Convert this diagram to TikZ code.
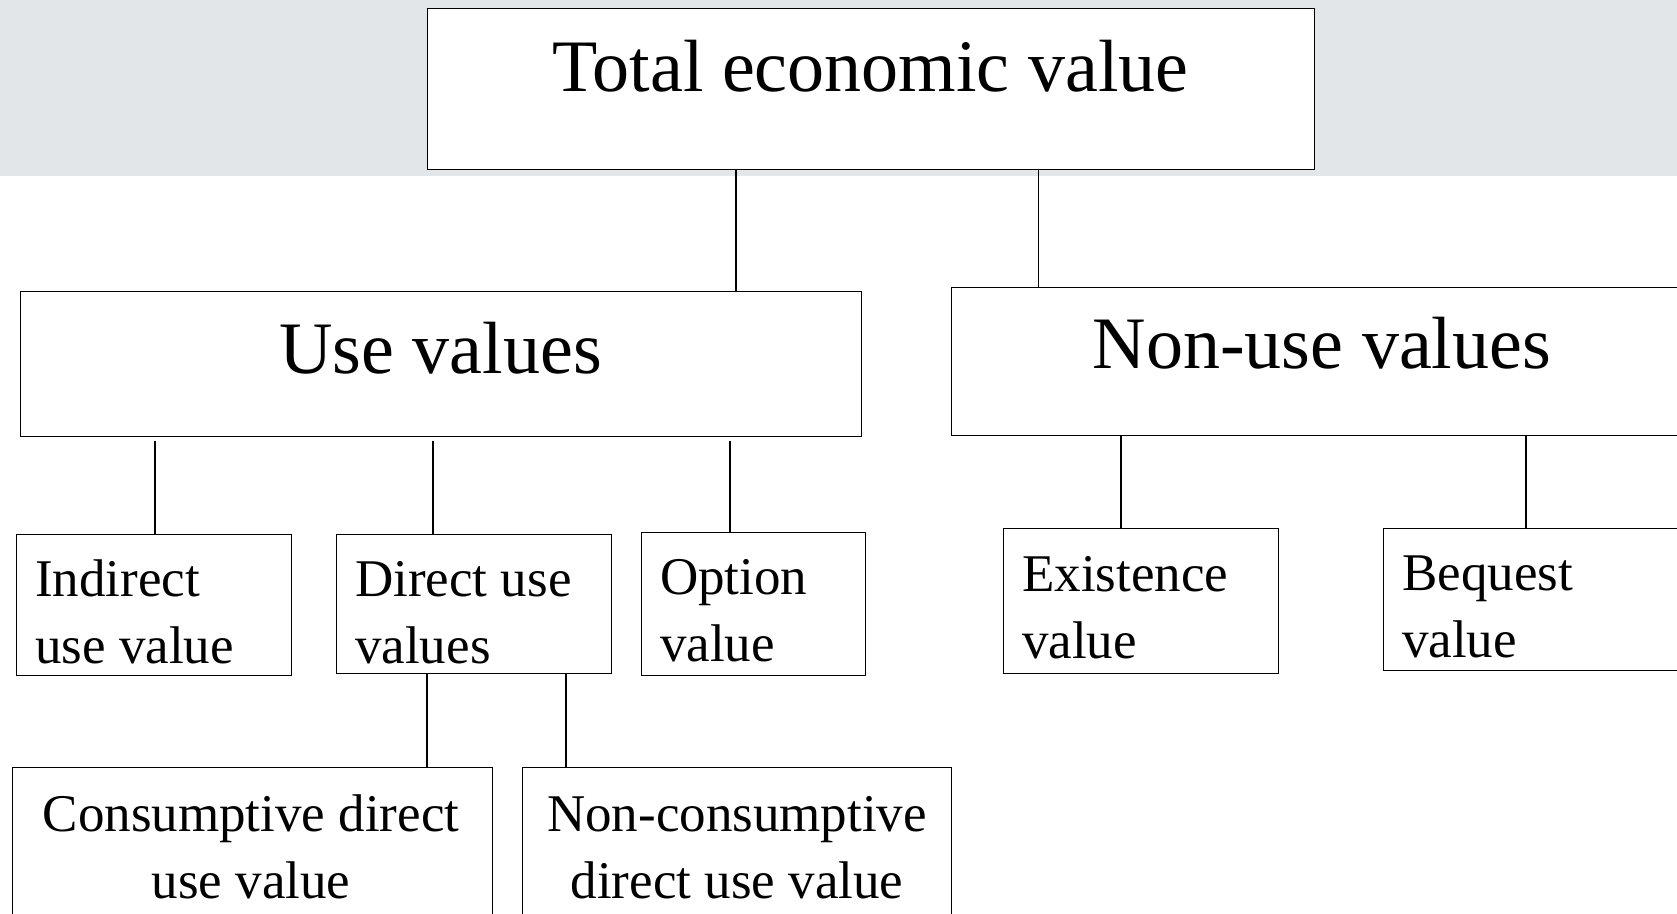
\documentclass[tikz,border=0pt]{standalone}
\usepackage{fontspec}
\setmainfont{Liberation Serif}
\usetikzlibrary{positioning}
\definecolor{bandgray}{RGB}{227,230,233}

\begin{document}
\begin{tikzpicture}[
        x=1pt, y=-1pt,
        box/.style={draw, line width=1.4pt, anchor=north west, inner sep=0pt, fill=white},
        bigtxt/.style={font=\fontsize{74}{89}\selectfont, anchor=base, inner sep=0pt},
        smalltxt/.style={font=\fontsize{53}{67}\selectfont, align=left, anchor=base west, inner sep=0pt},
        midtxt/.style={font=\fontsize{53}{67}\selectfont, align=center, anchor=base, inner sep=0pt},
        link/.style={line width=1.4pt}
    ]
        \useasboundingbox (0,0) rectangle (1677,913);
        \clip (0,0) rectangle (1677,913);
        \fill[bandgray] (0,0) rectangle (1677,176);

        % boxes
        \node[box, minimum width=887pt, minimum height=161.5pt] (total) at (427,7.5) {};
        \node[box, minimum width=841pt, minimum height=145pt] (use) at (20,291) {};
        \node[box, minimum width=760pt, minimum height=148pt] (nonuse) at (951,287) {};
        \node[box, minimum width=275pt, minimum height=141pt] (indirect) at (16,534) {};
        \node[box, minimum width=275pt, minimum height=139pt] (direct) at (336,534) {};
        \node[box, minimum width=224pt, minimum height=143pt] (option) at (641,532) {};
        \node[box, minimum width=275pt, minimum height=145pt] (exist) at (1003,528) {};
        \node[box, minimum width=330pt, minimum height=142pt] (bequest) at (1383,528) {};
        \node[box, minimum width=480pt, minimum height=200pt] (consump) at (12,767) {};
        \node[box, minimum width=429pt, minimum height=200pt] (noncons) at (522,767) {};

        % texts (base = last line)
        \node[bigtxt] (totaltxt) at (870.5,91) {Total economic value};
        \node[bigtxt] (usetxt) at (440.5,373) {Use values};
        \node[bigtxt] (nonusetxt) at (1322,368) {Non-use values};
        \node[smalltxt] (indirecttxt) at (35,663) {Indirect\\use value};
        \node[smalltxt] (directtxt) at (355,663) {Direct use\\values};
        \node[smalltxt] (optiontxt) at (660,661) {Option\\value};
        \node[smalltxt] (existtxt) at (1022,658) {Existence\\value};
        \node[smalltxt] (bequesttxt) at (1402,657) {Bequest\\value};
        \node[midtxt] (consumptxt) at (251,898) {Consumptive direct\\use value};
        \node[midtxt] (nonconstxt) at (737,898) {Non-consumptive\\direct use value};

        % branch points
        \coordinate (b1) at (736,0);
        \coordinate (b2) at (1038.5,0);
        \coordinate (b3) at (155,0);
        \coordinate (b4) at (433,0);
        \coordinate (b5) at (730,0);
        \coordinate (b6) at (1121,0);
        \coordinate (b7) at (1526,0);
        \coordinate (b8) at (427,0);
        \coordinate (b9) at (566,0);

        \draw[link] (total.south -| b1) -- (use.north -| b1);
        \draw[link] (total.south -| b2) -- (nonuse.north -| b2);
        \draw[link, shorten <=4pt] (use.south -| b3) -- (indirect.north -| b3);
        \draw[link, shorten <=4pt] (use.south -| b4) -- (direct.north -| b4);
        \draw[link, shorten <=4pt] (use.south -| b5) -- (option.north -| b5);
        \draw[link] (nonuse.south -| b6) -- (exist.north -| b6);
        \draw[link] (nonuse.south -| b7) -- (bequest.north -| b7);
        \draw[link] (direct.south -| b8) -- (consump.north -| b8);
        \draw[link] (direct.south -| b9) -- (noncons.north -| b9);
    \end{tikzpicture}
\end{document}
